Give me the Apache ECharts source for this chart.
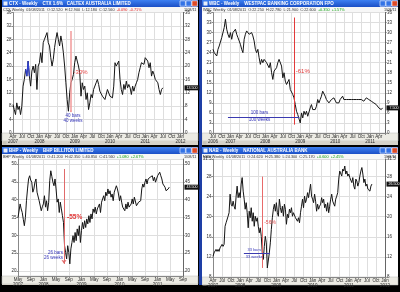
<!DOCTYPE html>
<html><head><meta charset="utf-8">
<script src="https://cdn.jsdelivr.net/npm/echarts@6.0.0/dist/echarts.min.js"></script>
<style>html,body{margin:0;padding:0;background:#000;overflow:hidden}#chart{width:400px;height:292px}</style>
</head><body><div id="chart"></div>
<script>
// ---- data (weekly closes) ----
const p1Values=[8.5,7,5.5,9,7,8,5.5,8,14,16,19,17,21.5,17,14,18.5,20,18,20.5,13,20,21,24,21,27,28,29,30,27,26,22.5,20,22,25.5,28,30,28,26,29,27,24,20,15,10,6.5,12,15,16,17.5,21,23,21.5,20,18,11,15,13,14,10,12,7,9,11.5,10.5,13,13.5,15,16,14.5,12.5,12,11,10.5,10,10.5,13,13.5,11,10.5,10.5,14,21,20,20.5,21.5,16,13,11.5,14.5,13,15.5,13.5,14.5,13.5,11.5,14,12.5,14,15,16,18,19.5,21,21.5,20.5,22.5,23,21.5,19.5,21,17,18.5,17.5,16,16.5,15,13,11.5,13,13.5];
const p1BlueWeeks=[10,13];
const p2Values=[25,24,23.5,23,25,26,25.5,28.5,29,31.5,34,31,29.5,28.5,30,28,30,29.5,31,29.5,28.5,27.5,26.5,25,24,28,29.5,30.5,31,29.5,29,30,29,27.5,25,24,25,22.5,20.5,22,21,22,22.5,21,20.5,19.5,21,18,16,18.5,18.5,19.5,21,22,22.5,20,16.5,18,15.5,14.5,14,16,13,12.5,11.5,10.5,8.5,6.5,5.5,5.5,3,6,4.5,6.5,5.5,6.5,5,4.5,7.5,8.5,7,7.5,7,8,10,9,10,11,12.5,12,11,10,10.5,9,9.5,10,9.5,10.5,10,9,9.5,9,10,10.5,11,10,10.5,10,10.5,10,9.5,10,10.2,10,9.5,10,10.5,10,9.5,10,10,9.5,10,10.5,10.5,10,10,9.5,9,9,8.5,8.5,8,7.5,7.5,7,7.5];
const p3Values=[35.0,35.5,38.8,37.4,36.4,34.5,32.7,35.0,39.7,43.0,45.8,46.7,45.5,44.9,42.1,43.0,44.9,45.8,42.1,41.6,39.7,40.2,36.9,38.0,38.8,41.1,37.9,39.7,36.9,39.3,45.3,48.1,46.5,44.9,43.9,45.8,43.0,39.3,40.2,36.4,39.3,37.4,35.5,33.6,27.1,25.2,23.4,27.1,25.2,22.0,26.2,28.0,29.9,28.0,30.8,28.5,31.8,29.9,32.7,28.0,31.3,33.6,31.8,34.1,32.2,34.6,33.2,35.5,33.6,36.0,34.6,37.4,36.4,37.9,36.0,37.4,37.9,38.8,36.4,39.3,39.7,41.1,39.7,42.1,41.1,43.0,41.6,42.5,40.7,41.6,39.7,42.1,43.0,43.9,43.0,41.6,39.7,41.1,39.3,37.9,38.3,36.9,38.8,37.4,39.3,37.9,37.4,38.8,40.2,38.8,40.7,40.2,38.3,37.9,39.3,38.8,39.7,43.0,44.4,43.5,44.9,45.8,44.4,45.8,45.3,46.3,45.8,46.7,45.3,46.3,44.9,45.8,46.7,47.2,47.7,46.7,45.8,44.4,43.9,43.5,42.5,42.1,43.0,43.5];
const p4Values=[12.1,12.8,12.5,13.5,13.1,13.5,13.1,13.8,14.1,14.5,14.1,14.5,18.1,18.8,18.5,20.1,20.8,24.5,22.5,22.1,23.1,22.1,21.5,24.1,26.1,23.8,24.8,23.8,26.5,27.8,25.1,23.5,21.5,22.8,20.8,17.8,21.1,19.8,21.8,19.1,20.8,18.1,20.1,19.1,19.8,18.1,16.8,17.8,16.1,12.8,11.5,14.1,16.1,14.8,9.8,10.1,12.8,14.8,17.5,19.8,21.5,22.5,21.1,22.8,20.8,20.1,23.5,21.8,20.8,22.1,20.1,22.5,21.5,18.5,20.5,19.8,21.5,20.8,21.8,20.1,20.8,20.5,19.8,20.1,19.1,19.8,18.8,20.8,22.1,23.5,21.8,24.1,22.8,23.5,24.8,23.8,25.1,26.5,24.1,23.5,22.8,24.5,23.1,21.1,22.5,21.5,22.1,22.5,23.8,22.8,23.5,21.8,22.5,21.1,22.8,20.8,22.1,23.5,24.5,23.1,22.8,22.1,23.5,24.1,24.8,27.5,29.1,28.8,28.1,29.5,29.1,30.1,28.5,29.1,28.1,28.5,27.8,27.5,26.8,27.8,26.1,25.5,27.5,27.1,26.1,26.8,28.1,29.1,29.8,28.5,26.8,27.5,26.1,26.5,25.5,25.8,25.1,26.1,26.5];
// tick labels (one per vertical grid line)
const p1Ticks=['Apr\n2007','Jul','Oct','Jan\n2008','Apr','Jul','Oct','Jan\n2009','Apr','Jul','Oct','Jan\n2010','Apr','Jul','Oct','Jan\n2011','Apr','Jul','Oct','Jan\n2012'];
const p2Ticks=['Jul\n2006','Oct','Jan\n2007','Apr','Jul','Oct','Jan\n2008','Apr','Jul','Oct','Jan\n2009','Apr','Jul','Oct','Jan\n2010','Apr','Jul','Oct','Jan\n2011','Apr'];
const p3Ticks=['May\n2007','Sep','Jan\n2008','May','Sep','Jan\n2009','May','Sep','Jan\n2010','May','Sep','Jan\n2011','May','Sep'];
const p4Ticks=['Apr\n2007','Jul','Oct','Jan\n2008','Apr','Jul','Oct','Jan\n2009','Apr','Jul','Oct','Jan\n2010','Apr','Jul','Oct','Jan\n2011','Apr','Jul','Oct','Jan\n2012'];

// ---- styling / layout ----
const FONT='Liberation Sans';
const INK='#2a2a2a', GRIDC='#dedede', BLUE='#3434b8';

const panels=[
 {vals:p1Values, ticks:p1Ticks, hl:p1BlueWeeks,
  grid:{left:13,top:12.5,width:170,height:120.5}, x:{max:135,interval:7}, y:{min:0,max:36,interval:4}, lm:1.5,
  lines:[{a:[46,30.5],b:[46,6.5],c:'#f29a9a',w:1.5,end:'circle',es:2}],
  texts:[{at:[53.7,18.2],t:'-30%',c:'#e84848',s:6},{at:[47.6,5.0],t:'40 bars',c:BLUE,s:4.5},{at:[47.6,3.7],t:'40 weeks',c:BLUE,s:4.5}]},
 {vals:p2Values, ticks:p2Ticks,
  grid:{left:213,top:12.5,width:172,height:120.5}, x:{max:138,interval:7}, y:{min:0,max:36,interval:3}, lm:1.5,
  lines:[{a:[65.5,34.5],b:[65.5,2.5],c:'#e23a3a',w:1},{a:[12,4.8],b:[69.3,4.8],c:'#3a3ab0',w:1}],
  texts:[{at:[72,18.5],t:'-61%',c:'#e23a3a',s:6},{at:[37.3,5.9],t:'100 bars',c:BLUE,s:4.5},{at:[37.3,4.0],t:'100 weeks',c:BLUE,s:4.5}]},
 {vals:p3Values, ticks:p3Ticks,
  grid:{left:18,top:159,width:165,height:117}, x:{max:156,interval:12}, y:{min:18.6,max:51.4,split:6}, lm:1.5,
  lines:[{a:[43.5,48.6],b:[43.5,22.0],c:'#e06a6a',w:1,end:'arrow',es:4}],
  texts:[{at:[53.5,35.0],t:'-55%',c:'#e23a3a',s:6.5,bold:true},{at:[43.0,25.2],t:'26 bars',c:BLUE,s:4.5,pos:'left'},{at:[43.0,23.6],t:'26 weeks',c:BLUE,s:4.5,pos:'left'}]},
 {vals:p4Values, ticks:p4Ticks,
  grid:{left:213,top:159,width:172,height:118}, x:{max:171,interval:9}, y:{min:8,max:31.5,interval:4}, lm:1.5,
  lines:[{a:[49.3,28.0],b:[49.3,9.8],c:'#e86a6a',w:1},{a:[30.7,12.7],b:[56.7,12.7],c:'#3a3ab0',w:1}],
  texts:[{at:[56.7,18.9],t:'-56%',c:'#e05050',s:5},{at:[41,13.4],t:'33 bars',c:BLUE,s:4},{at:[41,12.1],t:'33 weeks',c:BLUE,s:4}]}
];

const grid=[],xAxis=[],yAxis=[],series=[];
panels.forEach((p,i)=>{
  grid.push(Object.assign({containLabel:false},p.grid));
  xAxis.push({gridIndex:i,type:'value',min:0,max:p.x.max,interval:p.x.interval,
    axisLine:{show:true,lineStyle:{color:'#888',width:1}},
    axisTick:{show:true,length:2,lineStyle:{color:'#888'}},
    splitLine:{show:true,lineStyle:{color:GRIDC,width:1}},
    axisLabel:{fontSize:4.5,lineHeight:5,color:INK,margin:p.lm,fontFamily:FONT,
      formatter:v=>{const k=v/p.x.interval;const r=Math.round(k);return Math.abs(k-r)<1e-6?(p.ticks[r]||''):'';}}});
  const yb={gridIndex:i,type:'value',min:p.y.min,max:p.y.max};
  if(p.y.interval) yb.interval=p.y.interval; else yb.splitNumber=p.y.split;
  const lab={fontSize:4.5,color:INK,margin:1.5,fontFamily:FONT,showMinLabel:!!p.y.interval,showMaxLabel:!!p.y.interval};
  yAxis.push(Object.assign({},yb,{position:'left',axisLine:{show:true,lineStyle:{color:'#888'}},axisTick:{show:true,length:1.5},
    splitLine:{show:true,lineStyle:{color:GRIDC,width:1}},axisLabel:lab}));
  yAxis.push(Object.assign({},yb,{position:'right',axisLine:{show:true,lineStyle:{color:'#666'}},axisTick:{show:true,length:1.5},
    splitLine:{show:false},axisLabel:Object.assign({},lab,{margin:2})}));
  const last=p.vals[p.vals.length-1];
  const mlData=p.lines.map(l=>[
    {coord:l.a,symbol:'none',lineStyle:{color:l.c,width:l.w,type:'solid'}},
    {coord:l.b,symbol:l.end||'none',symbolSize:l.es||0,lineStyle:{color:l.c,width:l.w,type:'solid'},itemStyle:{color:l.c}}]);
  const mpData=p.texts.map(t=>({coord:t.at,symbol:'rect',symbolSize:1,itemStyle:{color:'rgba(0,0,0,0)'},
    label:{show:true,formatter:t.t,position:t.pos||'inside',distance:0,color:t.c,fontSize:t.s,fontWeight:t.bold?'bold':'normal',fontFamily:FONT}}));
  mpData.push({coord:[p.x.max,last],symbol:'rect',symbolSize:[15,5],symbolOffset:[9,0],itemStyle:{color:'#111'},
    label:{show:true,position:'inside',formatter:last.toFixed(3),color:'#fff',fontSize:3.6,fontFamily:FONT}});
  series.push({type:'line',xAxisIndex:i,yAxisIndex:2*i,data:p.vals.map((v,k)=>[k,v]),symbol:'none',showSymbol:false,
    lineStyle:{color:'#151515',width:1},z:3,silent:true,
    markLine:{silent:true,animation:false,label:{show:false},symbol:['none','none'],data:mlData},
    markPoint:{silent:true,animation:false,data:mpData}});
  if(p.hl){
    series.push({type:'line',xAxisIndex:i,yAxisIndex:2*i,symbol:'none',silent:true,z:4,
      data:p.vals.map((v,k)=>[k,(k>=p.hl[0]&&k<=p.hl[1])?v:null]),lineStyle:{color:'#3040d0',width:1.2}});
  }
});

// ---- window chrome ----
const els=[];
function R(x,y,w,h,fill,z,stroke,lw){els.push({type:'rect',silent:true,z:z==null?-10:z,shape:{x:x,y:y,width:w,height:h},style:{fill:fill,stroke:stroke||null,lineWidth:lw||0}});}
function T(x,y,style,z){els.push({type:'text',silent:true,z:z==null?5:z,x:x,y:y,style:Object.assign({fontFamily:FONT,verticalAlign:'middle'},style)});}
const wins=[
 {x:2,y:0,w:196,h:145,pb:133,title:'CTX - Weekly    CTX 1.6%   CALTEX AUSTRALIA LIMITED',head:'CTX Weekly  01/08/2011  O:12.520  H:12.900  L:12.180  C:12.560  ',chg:'-0.090  -0.71%',cc:'#e02020'},
 {x:202,y:0,w:196,h:145,pb:133,title:'WBC - Weekly    WESTPAC BANKING CORPORATION FPO',head:'WBC Weekly  01/08/2011  O:22.250  H:22.780  L:21.900  C:22.600  ',chg:'+0.350  +1.57%',cc:'#10a010'},
 {x:2,y:147,w:196,h:138,pb:276,title:'BHP - Weekly    BHP BILLITON LIMITED',head:'BHP Weekly  01/08/2011  O:41.200  H:42.350  L:40.850  C:41.560  ',chg:'+1.080  +2.67%',cc:'#10a010'},
 {x:202,y:147,w:196,h:138,pb:277,title:'NAB - Weekly    NATIONAL AUSTRALIA BANK',head:'NAB Weekly  01/08/2011  O:24.620  H:25.380  L:24.300  C:25.170  ',chg:'+0.600  +2.45%',cc:'#10a010'}
];
wins.forEach(wn=>{
  R(wn.x,wn.y,wn.w,wn.h,'#ffffff');
  R(wn.x,wn.y,wn.w,7,{type:'linear',x:0,y:0,x2:0,y2:1,colorStops:[{offset:0,color:'#3d80f2'},{offset:1,color:'#1b4fc6'}]},-9);
  R(wn.x+1.5,wn.y+1.5,4,4,'#e8eef8',-8);
  T(wn.x+7,wn.y+3.7,{text:wn.title,fill:'#ffffff',fontSize:4.5,fontWeight:'bold'});
  [[18,'#3373e6'],[12,'#3373e6'],[6,'#df4a26']].forEach(b=>R(wn.x+wn.w-b[0],wn.y+0.8,5.4,5.4,b[1],-8,'#ffffff',0.6));
  R(wn.x,wn.y+7,wn.w,5.5,'#f7f7f7',-9);
  T(wn.x+1,wn.y+9.8,{text:'{a|'+wn.head+'}{b|'+wn.chg+'}',fontSize:3.8,rich:{a:{fill:'#333',color:'#333',fontSize:3.8,fontFamily:FONT},b:{fill:wn.cc,color:wn.cc,fontSize:3.8,fontFamily:FONT}}});
  T(wn.x+wn.w-14,wn.y+9.8,{text:'1/08/11',fill:'#333',fontSize:3.8});
  R(wn.x,wn.pb,wn.w,8,'#ecebe4',-9,'#b8b8b8',0.5);
  R(wn.x,wn.pb+8,wn.w,wn.y+wn.h-wn.pb-8,'#d6d3ca',-9);
  R(wn.x+1,wn.pb+8.3,3.5,wn.y+wn.h-wn.pb-8.8,'#c8c4b8',-8);
});
R(199,0,3,285,'#1e3fa6',-9);

const chart=echarts.init(document.getElementById('chart'),null,{renderer:'canvas'});
chart.setOption({backgroundColor:'#000',animation:false,grid:grid,xAxis:xAxis,yAxis:yAxis,series:series,graphic:{elements:els}});
</script></body></html>
